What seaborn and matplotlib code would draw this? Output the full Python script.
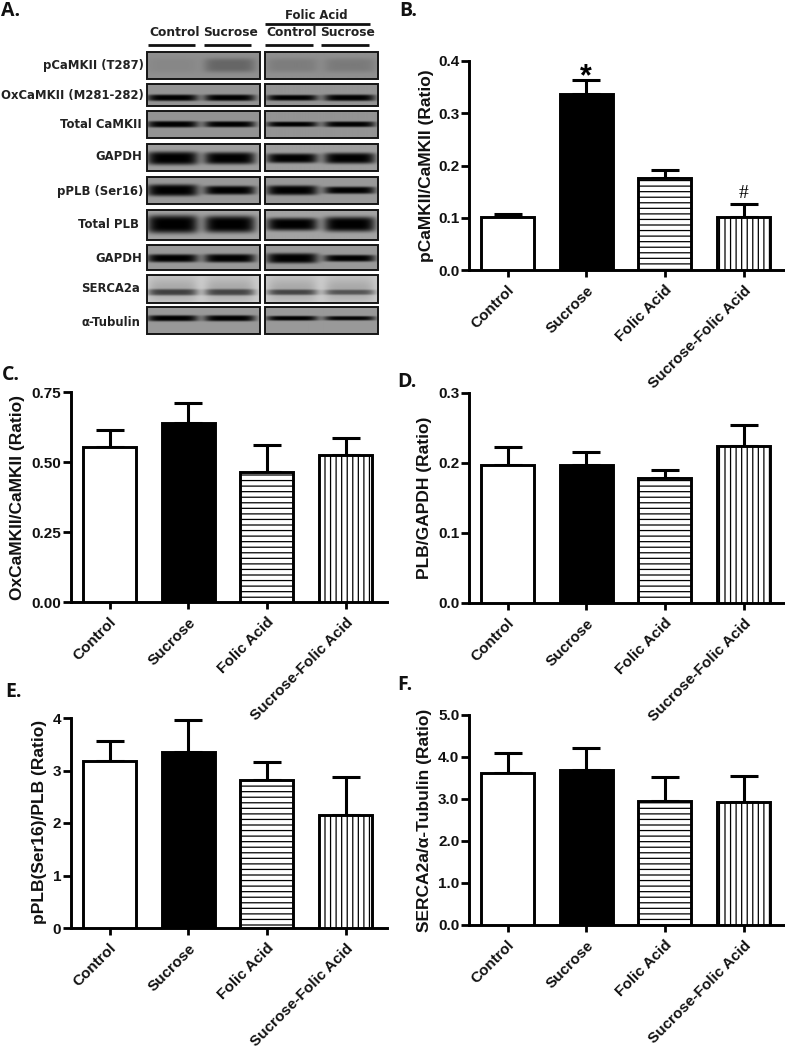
import numpy as np
import pandas as pd
import matplotlib
matplotlib.use("Agg")
import matplotlib.pyplot as plt
from matplotlib.patches import Rectangle
import seaborn as sns

W, H = 785, 1050
sns.set_theme(style="white")
plt.rcParams["font.family"] = ["Liberation Sans", "DejaVu Sans"]
plt.rcParams["font.weight"] = "bold"
plt.rcParams["hatch.linewidth"] = 0.9

groups = ["Control", "Sucrose", "Folic Acid", "Sucrose-Folic Acid"]

b_mean = [0.101, 0.336, 0.177, 0.101]
b_upper = [0.108, 0.363, 0.192, 0.127]
c_mean = [0.552, 0.640, 0.465, 0.525]
c_upper = [0.614, 0.712, 0.559, 0.586]
d_mean = [0.1975, 0.197, 0.179, 0.2245]
d_upper = [0.2226, 0.2155, 0.190, 0.255]
e_mean = [3.18, 3.36, 2.81, 2.15]
e_upper = [3.56, 3.955, 3.16, 2.87]
f_mean = [3.61, 3.69, 2.95, 2.92]
f_upper = [4.09, 4.215, 3.53, 3.54]

b_ticks = ["0.0", "0.1", "0.2", "0.3", "0.4"]
c_ticks = ["0.00", "0.25", "0.50", "0.75"]
d_ticks = ["0.0", "0.1", "0.2", "0.3"]
e_ticks = ["0", "1", "2", "3", "4"]
f_ticks = ["0.0", "1.0", "2.0", "3.0", "4.0", "5.0"]

# Western-blot strips: label, background grey, band darkness and thickness per lane
blot_labels = ["pCaMKII (T287)", "OxCaMKII (M281-282)", "Total CaMKII", "GAPDH",
               "pPLB (Ser16)", "Total PLB", "GAPDH", "SERCA2a", "α-Tubulin"]
blot_background = [0.56, 0.58, 0.58, 0.62, 0.60, 0.64, 0.60, 0.80, 0.60]
blot_darkness = [[0.03, 0.16, 0.07, 0.08],
                 [0.58, 0.58, 0.58, 0.58],
                 [0.58, 0.58, 0.58, 0.58],
                 [0.62, 0.62, 0.62, 0.62],
                 [0.60, 0.60, 0.60, 0.60],
                 [0.64, 0.64, 0.64, 0.64],
                 [0.60, 0.60, 0.60, 0.60],
                 [0.42, 0.40, 0.40, 0.34],
                 [0.60, 0.60, 0.60, 0.58]]
blot_thickness = [[7, 7, 7, 7],
                  [3.2, 3.2, 2.9, 3.2],
                  [3.2, 3.0, 2.6, 2.8],
                  [6.6, 6.0, 4.8, 5.4],
                  [5.8, 4.4, 4.8, 3.6],
                  [9.0, 8.4, 6.4, 7.4],
                  [4.0, 4.2, 5.0, 3.4],
                  [3.2, 3.2, 2.8, 2.6],
                  [3.0, 3.0, 2.4, 2.2]]

# layout, in reference pixels
blot_rows = [(52, 79, 65), (84, 106, 97.5), (111, 138, 124), (144, 171, 158), (177, 204, 190),
             (210, 240, 224), (245, 270, 258), (275, 303, 292), (307, 334, 318)]
blot_cols = [(146.5, 259.5), (265, 377.5)]
lane_x = [[172, 229], [292, 349]]
label_right = [144, 144, 142, 142, 143, 139, 142, 140, 140]
label_y = [66, 95, 124, 157, 191, 224, 258, 289, 322]


def ax_px(x0, y_top, x1, y_bottom):
    return fig.add_axes([x0 / W, 1 - y_bottom / H, (x1 - x0) / W, (y_bottom - y_top) / H])


def panel(mean, upper, ticks, ylabel, x_axis, y_top, y0, label_x, label_cy):
    ax = ax_px(x_axis, y_top, x_axis + 316, y0)
    df = pd.DataFrame({"group": groups, "value": mean})
    sns.barplot(data=df, x="group", y="value", hue="group", palette=["white", "black", "white", "white"],
                order=groups, hue_order=groups, dodge=False, legend=False, saturation=1,
                edgecolor="black", linewidth=2.1, width=0.675, ax=ax, errorbar=None, zorder=3)
    for patch, hatch in zip(ax.patches, ["", "", "---", "|||"]):
        patch.set_hatch(hatch)
    err = np.array(upper) - np.array(mean)
    ax.errorbar(range(4), mean, yerr=[np.zeros(4), err], fmt="none", ecolor="black",
                elinewidth=2.2, capsize=10, capthick=2.2, zorder=2)
    vals = [float(t) for t in ticks]
    ax.set_ylim(0, vals[-1])
    ax.set_xlim(-38.5 / 78.7, (316 - 38.5) / 78.7)
    ax.set_yticks(vals, ticks, fontsize=11, fontweight="bold")
    ax.set_xticks(range(4))
    ax.set_xticklabels(groups, rotation=45, ha="right", rotation_mode="anchor",
                       fontsize=11, fontweight="bold", color="#111111")
    ax.tick_params(axis="y", length=5.5, width=2, color="black", pad=1.5, left=True, labelcolor="#111111")
    ax.tick_params(axis="x", length=5, width=2, color="black", pad=4.5, bottom=True)
    for s in ["top", "right"]:
        ax.spines[s].set_visible(False)
    for s in ["left", "bottom"]:
        ax.spines[s].set_linewidth(2.1)
        ax.spines[s].set_color("black")
    ax.set_xlabel("")
    ax.set_ylabel(ylabel, fontsize=12.5, fontweight="bold", color="#111111")
    ax.yaxis.set_label_coords((label_x + 8.5 - x_axis) / 316, (y0 - label_cy) / (y0 - y_top))
    ax.patch.set_alpha(0)
    return ax


fig = plt.figure(figsize=(W / 100, H / 100), dpi=100, facecolor="white")

# overlay in pixel coordinates for panel A and panel letters
ov = fig.add_axes([0, 0, 1, 1])
ov.set_xlim(0, W)
ov.set_ylim(H, 0)
ov.axis("off")

for r, (top, bottom, centre) in enumerate(blot_rows):
    for c, (left, right) in enumerate(blot_cols):
        xs = np.arange(left, right, 0.5)
        ys = np.arange(top, bottom, 0.5)
        X, Y = np.meshgrid(xs, ys)
        img = np.full(X.shape, blot_background[r])
        for lane in range(2):
            k = c * 2 + lane
            dark = blot_darkness[r][k]
            th = blot_thickness[r][k]
            lx = lane_x[c][lane]
            prof = np.exp(-((X - lx) / 25.5) ** 6)
            img -= dark * prof * np.exp(-((Y - centre) / th) ** 4)
            if r == 7:
                img -= 0.14 * np.exp(-((X - lx) / 24.0) ** 6) * np.exp(-((Y - centre + 3) / 12.0) ** 2)
        ov.imshow(np.clip(img, 0, 1), cmap="gray", vmin=0, vmax=1, aspect="auto",
                  extent=(left, right, bottom, top), interpolation="bilinear", zorder=1)
        ov.add_patch(Rectangle((left, top), right - left, bottom - top, fill=False,
                               edgecolor="#151515", linewidth=1.4, zorder=2))
    ov.text(label_right[r], label_y[r], blot_labels[r], ha="right", va="center", fontsize=8.4,
            family="DejaVu Sans", fontweight="bold", color="#222222")
ov.set_xlim(0, W)
ov.set_ylim(H, 0)

for x0, x1, y in [(148, 195, 45), (204, 251, 45), (265, 313, 45), (321, 369, 45), (265, 370, 24)]:
    ov.plot([x0, x1], [y, y], color="#111111", lw=2, solid_capstyle="butt", zorder=2)
for x, name in zip([175, 231, 292, 348], ["Control", "Sucrose", "Control", "Sucrose"]):
    ov.text(x, 33, name, ha="center", va="center", fontsize=8.8, family="DejaVu Sans",
            fontweight="bold", color="#222222")
ov.text(316, 15.5, "Folic Acid", ha="center", va="center", fontsize=8.4, family="DejaVu Sans",
        fontweight="bold", color="#222222")

for letter, x, y in [("A.", 1, 16), ("B.", 399, 16), ("C.", 2, 380), ("D.", 397, 387),
                     ("E.", 5, 697), ("F.", 397, 690)]:
    ov.text(x, y, letter, ha="left", va="baseline", fontsize=14, family="Open Sans", fontweight="bold",
            color="#111111")

ax_b = panel(b_mean, b_upper, b_ticks, "pCaMKII/CaMKII (Ratio)", 469, 61, 270, 425, 166)
panel(c_mean, c_upper, c_ticks, "OxCaMKII/CaMKII (Ratio)", 71, 392, 602, 17, 497)
panel(d_mean, d_upper, d_ticks, "PLB/GAPDH (Ratio)", 469, 393, 603, 423, 498)
panel(e_mean, e_upper, e_ticks, "pPLB(Ser16)/PLB (Ratio)", 71, 718, 928, 39, 822)
panel(f_mean, f_upper, f_ticks, "SERCA2a/α-Tubulin (Ratio)", 469, 715, 925, 423, 820)

ax_b.text(1, 0.369, "*", ha="center", va="center", fontsize=22, fontweight="bold", color="black")
ax_b.text(3, 0.146, "#", ha="center", va="center", fontsize=14, family="Liberation Serif",
          fontweight="normal", color="black")

fig.savefig("out.png", dpi=100, facecolor="white")
